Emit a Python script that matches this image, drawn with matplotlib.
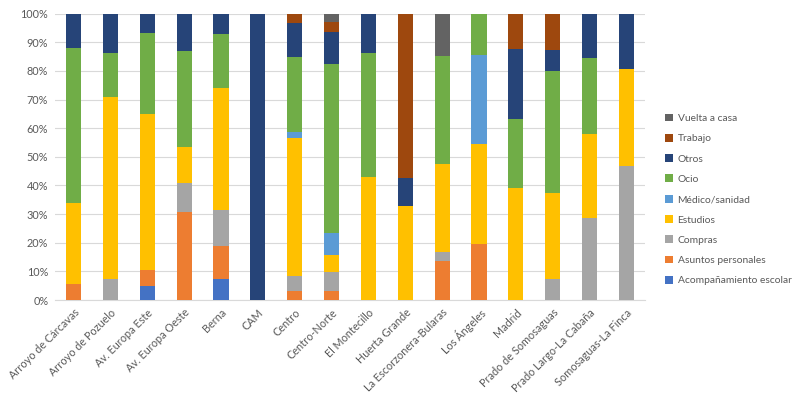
import numpy as np
import matplotlib
matplotlib.use("Agg")
import matplotlib.pyplot as plt
from matplotlib.ticker import PercentFormatter

plt.rcParams['font.family'] = ['Lato', 'DejaVu Sans']

barrios = ["Arroyo de Cárcavas", "Arroyo de Pozuelo", "Av. Europa Este", "Av. Europa Oeste",
           "Berna", "CAM", "Centro", "Centro-Norte", "El Montecillo", "Huerta Grande",
           "La Escorzonera-Bularas", "Los Ángeles", "Madrid", "Prado de Somosaguas",
           "Prado Largo-La Cabaña", "Somosaguas-La Finca"]

# porcentajes por motivo (orden de apilado, de abajo a arriba)
acompanamiento = [0, 0, 4.9, 0, 7.4, 0, 0, 0, 0, 0, 0, 0, 0, 0, 0, 0]
asuntos = [5.7, 0, 5.6, 30.9, 11.6, 0, 3.1, 3.1, 0, 0, 13.6, 19.4, 0, 0, 0, 0]
compras = [0, 7.2, 0, 10.0, 12.5, 0, 5.3, 6.8, 0, 0, 3.3, 0, 0, 7.2, 28.8, 46.9]
estudios = [28.1, 63.8, 54.4, 12.5, 42.5, 0, 48.2, 5.9, 43.0, 33.0, 30.7, 35.1, 39.2, 30.2, 29.1, 33.6]
medico = [0, 0, 0, 0, 0, 0, 2.0, 7.6, 0, 0, 0, 31.0, 0, 0, 0, 0]
ocio = [54.3, 15.2, 28.2, 33.6, 19.0, 0, 26.1, 59.0, 43.4, 0, 37.5, 14.5, 23.9, 42.5, 26.5, 0]
otros = [11.9, 13.8, 6.9, 13.0, 7.0, 100, 12.1, 11.0, 13.6, 9.7, 0, 0, 24.7, 7.4, 15.6, 19.5]
trabajo = [0, 0, 0, 0, 0, 0, 3.3, 3.5, 0, 57.3, 0, 0, 12.2, 12.7, 0, 0]
vuelta = [0, 0, 0, 0, 0, 0, 0, 3.1, 0, 0, 14.9, 0, 0, 0, 0, 0]

series = [("Acompañamiento escolar", acompanamiento, "#4472C4"),
          ("Asuntos personales", asuntos, "#ED7D31"),
          ("Compras", compras, "#A5A5A5"),
          ("Estudios", estudios, "#FFC000"),
          ("Médico/sanidad", medico, "#5B9BD5"),
          ("Ocio", ocio, "#70AD47"),
          ("Otros", otros, "#264478"),
          ("Trabajo", trabajo, "#9E480E"),
          ("Vuelta a casa", vuelta, "#636363")]

fig = plt.figure(figsize=(8, 3.99), dpi=100)
ax = fig.add_axes([0.069, 0.248, 0.737, 0.718])

x = np.arange(len(barrios))
bottom = np.zeros(len(barrios))
for name, vals, col in series:
    vals = np.array(vals, dtype=float)
    ax.bar(x, vals, 0.41, bottom=bottom, color=col, label=name, zorder=3)
    bottom += vals

ax.set_xlim(-0.5, len(barrios) - 0.5)
ax.set_ylim(0, 100)
ax.set_yticks(np.arange(0, 101, 10))
ax.yaxis.set_major_formatter(PercentFormatter(decimals=0))
ax.grid(axis='y', color='#D9D9D9', lw=0.8, zorder=0)
for s in ['top', 'right', 'left']:
    ax.spines[s].set_visible(False)
ax.spines['bottom'].set_color('#D9D9D9')
ax.tick_params(length=0, colors='#595959', labelsize=7.8, pad=5)
ax.set_xticks(x)
ax.set_xticklabels(barrios, rotation=45, ha='right', rotation_mode='anchor')

h, l = ax.get_legend_handles_labels()
fig.legend(h[::-1], l[::-1], loc='center left', bbox_to_anchor=(0.82, 0.5),
           frameon=False, fontsize=7.4, handlelength=0.8, handleheight=0.8,
           handletextpad=0.4, labelspacing=1.05, labelcolor='#595959')

fig.savefig("out.png", dpi=100)
